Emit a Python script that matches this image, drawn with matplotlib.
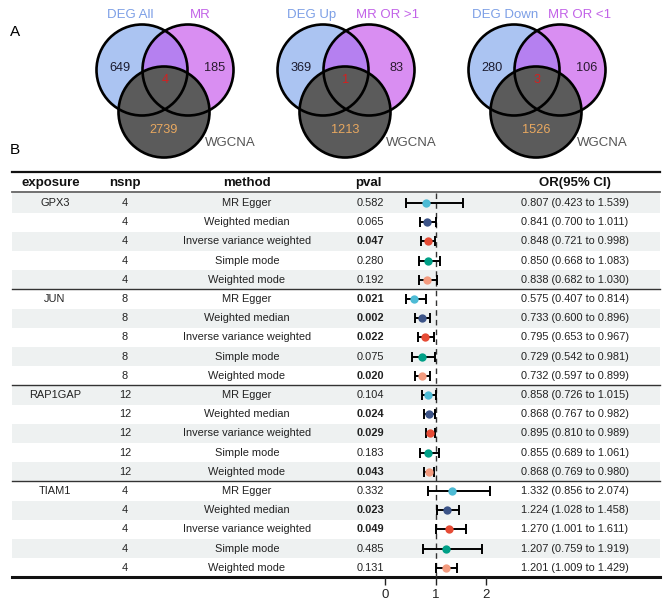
import matplotlib.pyplot as plt
from matplotlib.patches import Circle

plt.rcParams['font.family'] = ['Liberation Sans', 'DejaVu Sans']

# --- panel A: venn counts ---
venn_left = ['DEG All', 'DEG Up', 'DEG Down']
venn_right = ['MR', 'MR OR >1', 'MR OR <1']
venn_bottom = 'WGCNA'
only_left = [649, 369, 280]
only_right = [185, 83, 106]
center_cnt = [4, 1, 3]
only_bottom = [2739, 1213, 1526]

# --- panel B: MR results ---
exposures = ['GPX3', 'JUN', 'RAP1GAP', 'TIAM1']
nsnp = [4, 8, 12, 4]
methods = ['MR Egger', 'Weighted median', 'Inverse variance weighted',
           'Simple mode', 'Weighted mode']
pval = [0.582, 0.065, 0.047, 0.280, 0.192,
        0.021, 0.002, 0.022, 0.075, 0.020,
        0.104, 0.024, 0.029, 0.183, 0.043,
        0.332, 0.023, 0.049, 0.485, 0.131]
odds = [0.807, 0.841, 0.848, 0.850, 0.838,
        0.575, 0.733, 0.795, 0.729, 0.732,
        0.858, 0.868, 0.895, 0.855, 0.868,
        1.332, 1.224, 1.270, 1.207, 1.201]
ci_lo = [0.423, 0.700, 0.721, 0.668, 0.682,
         0.407, 0.600, 0.653, 0.542, 0.597,
         0.726, 0.767, 0.810, 0.689, 0.769,
         0.856, 1.028, 1.001, 0.759, 1.009]
ci_hi = [1.539, 1.011, 0.998, 1.083, 1.030,
         0.814, 0.896, 0.967, 0.981, 0.899,
         1.015, 0.982, 0.989, 1.061, 0.980,
         2.074, 1.458, 1.611, 1.919, 1.429]
method_colors = ['#4DBBD5', '#3C5488', '#E64B35', '#00A087', '#F39B7F']

fig = plt.figure(figsize=(6.7, 6.08), dpi=100)

# venn panel drawn in pixel coordinates
av = fig.add_axes([0, 0, 1, 1])
av.set_xlim(0, 670)
av.set_ylim(608, 0)
av.axis('off')
av.text(15, 32, 'A', fontsize=11, ha='center', va='center')
av.text(15, 150, 'B', fontsize=11, ha='center', va='center')

shifts = [0, 181, 372]
r = 45.5
for k, dx in enumerate(shifts):
    cb = (142 + dx, 70)
    cp = (188 + dx, 70)
    cg = (164 + dx, 112)
    blue = Circle(cb, r, fc='#abc4f2', ec='none')
    purp = Circle(cp, r, fc='#d98ef2', ec='none')
    av.add_patch(blue)
    av.add_patch(purp)
    mid = Circle(cb, r, fc='#b580f0', ec='none')
    av.add_patch(mid)
    mid.set_clip_path(purp)
    av.add_patch(Circle(cg, r, fc='#5b5b5b', ec='none'))
    for c in (cb, cp, cg):
        av.add_patch(Circle(c, r, fill=False, ec='black', lw=1.9))
    lab_pos = [(130, 200), (312 - 181, 388 - 181), (505 - 372, 580 - 372)][k]
    av.text(lab_pos[0] + dx, 15, venn_left[k], color='#7c9fe6', fontsize=9.5,
            ha='center', va='center')
    av.text(lab_pos[1] + dx, 15, venn_right[k], color='#c262e8', fontsize=9.5,
            ha='center', va='center')
    av.text(cg[0] + 66, 143, venn_bottom, color='#555555', fontsize=9.5,
            ha='center', va='center')
    av.text(cb[0] - 22, 68, str(only_left[k]), color='#1c1c30', fontsize=9.2,
            ha='center', va='center')
    av.text(cp[0] + 27, 68, str(only_right[k]), color='#2a1a30', fontsize=9.2,
            ha='center', va='center')
    av.text(cb[0] + 23, 80, str(center_cnt[k]), color='#d42020', fontsize=9.2,
            ha='center', va='center')
    av.text(cg[0], 130, str(only_bottom[k]), color='#e8a860', fontsize=9.2,
            ha='center', va='center')

# table panel: x in pixels, y in row units
rect = [12 / 670, 1 - 577.4 / 608, 648 / 670, (577.4 - 170.4) / 608]
at = fig.add_axes(rect)
at.set_xlim(12, 660)
at.set_ylim(19.5, -1.7)
at.axis('off')

n_rows = len(pval)
for i in range(n_rows):
    if i % 2 == 0:
        at.axhspan(i - 0.5, i + 0.5, color='#eef1f1', lw=0, zorder=0)

hdr_y = -1.04
for x, t in [(51, 'exposure'), (125, 'nsnp'), (247, 'method'),
             (368, 'pval'), (575, 'OR(95% CI)')]:
    at.text(x, hdr_y, t, fontsize=9.5, fontweight='bold', ha='center',
            va='center', color='#111111')

at.axhline(-1.62, color='#111111', lw=1.6, clip_on=False)
at.axhline(-0.55, color='#666666', lw=1.3, clip_on=False)
for g in range(1, len(exposures)):
    at.axhline(g * 5 - 0.52, color='#333333', lw=1.0, clip_on=False)
at.axhline(19.5, color='#111111', lw=2.2, clip_on=False)

txt = dict(fontsize=7.9, ha='center', va='center', color='#222222')
for i in range(n_rows):
    g, m = divmod(i, 5)
    if m == 0:
        at.text(55, i, exposures[g], **txt)
    at.text(125, i, str(nsnp[g]), **txt)
    at.text(247, i, methods[m], **txt)
    at.text(370, i, f'{pval[i]:.3f}', fontweight='bold' if pval[i] < 0.05 else 'normal', **txt)
    at.text(575, i, f'{odds[i]:.3f} ({ci_lo[i]:.3f} to {ci_hi[i]:.3f})', **txt)

# forest plot overlay
af = fig.add_axes(rect)
af.patch.set_visible(False)
af.set_xlim((12 - 385) / 50.5, (660 - 385) / 50.5)
af.set_ylim(19.5, -1.7)
for s in af.spines.values():
    s.set_visible(False)
af.set_yticks([])
af.set_xticks([0, 1, 2])
af.tick_params(axis='x', direction='out', length=6, width=1.0, labelsize=9.5,
               pad=2, colors='#222222')
af.vlines(1, -0.5, 19.5, colors='#333333', linestyles=(0, (4, 3)), lw=1.0)
for i in range(n_rows):
    err = [[odds[i] - ci_lo[i]], [ci_hi[i] - odds[i]]]
    af.errorbar(odds[i], i, xerr=err, fmt='none', ecolor='black',
                elinewidth=1.4, capsize=3.5, capthick=1.4, zorder=3)
    af.plot(odds[i], i, 'o', color=method_colors[i % 5], ms=6, mec='none', zorder=4)

fig.savefig('out.png', dpi=100)
